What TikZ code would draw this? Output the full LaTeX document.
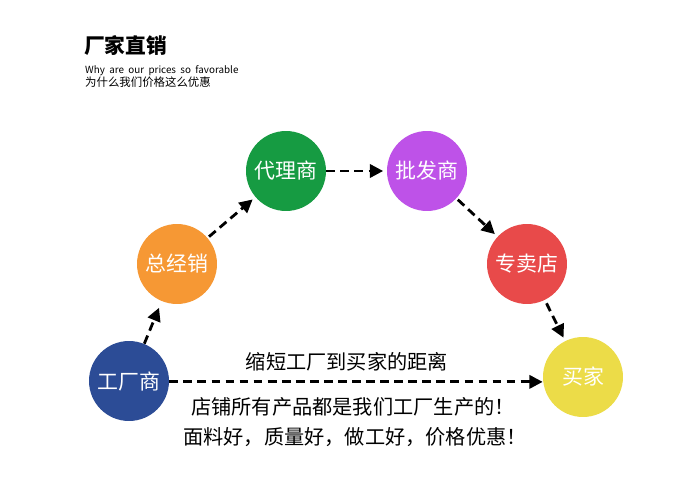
\documentclass[tikz,border=0pt]{standalone}
\usepackage{fontspec}
\usepackage{xcolor}
\usepackage{tikz}
\usetikzlibrary{arrows.meta,calc,positioning}
\newfontfamily\cjk{Noto Sans CJK SC}
\definecolor{factoryblue}{RGB}{44,76,150}
\definecolor{generalorange}{RGB}{246,152,52}
\definecolor{agentgreen}{RGB}{22,155,66}
\definecolor{wholesalepurple}{RGB}{190,82,232}
\definecolor{storered}{RGB}{232,74,74}
\definecolor{buyeryellow}{RGB}{236,220,72}

\begin{document}
\begin{tikzpicture}[x=0.02cm,y=-0.02cm,
    stage/.style={circle,minimum size=1.6cm,inner sep=0pt,text=white,font=\cjk\fontsize{11.9}{13}\selectfont},
    flow/.style={black,line width=1.6pt,dash pattern=on 5pt off 3pt,-{Triangle[length=7.5pt,width=7.5pt]},shorten >=2pt},
    note/.style={font=\cjk\fontsize{11.5}{13}\selectfont}]
    \useasboundingbox (0,0) rectangle (674,490);
    \fill[white] (0,0) rectangle (674,490);
    % heading
    \node[anchor=west,font=\cjk\bfseries\fontsize{11.8}{13}\selectfont] (title) at (78,45) {厂家直销};
    \node[anchor=west,font=\cjk\fontsize{5.6}{6}\selectfont] (subtitle) at (79,71) {Why\ \ are\ \ our\ \ prices\ \ so\ \ favorable};
    \node[anchor=west,font=\cjk\fontsize{6.5}{7}\selectfont,inner ysep=0pt] (subtitlecn) at (79,82) {为什么我们价格这么优惠};
    % stages
    \node[stage,fill=factoryblue] (factory) at (129,381) {工厂商};
    \node[stage,fill=generalorange] (general) at (177,264) {总经销};
    \node[stage,fill=agentgreen] (agent) at (286,171) {代理商};
    \node[stage,fill=wholesalepurple] (wholesale) at (427,171) {批发商};
    \node[stage,fill=storered] (store) at (527,264) {专卖店};
    \node[stage,fill=buyeryellow] (buyer) at (583,377) {买家};
    \draw[flow,shorten >=4pt] (factory) -- (general);
    \draw[flow,shorten <=1pt] (general) -- (agent);
    \draw[flow] (agent) -- (wholesale);
    \draw[flow,shorten <=1pt] (wholesale) -- (store);
    \draw[flow,shorten <=2pt] (store) -- (buyer);
    \draw[flow,shorten >=0pt] ([yshift=-0.5pt]factory.east) -- ([yshift=-0.5pt]factory.east -| buyer.west);
    % notes
    \node[note] (shorten) at (347,362) {缩短工厂到买家的距离};
    \node[note] (own) at (353,407) {店铺所有产品都是我们工厂生产的！};
    \node[note] (quality) at (355,437) {面料好，质量好，做工好，价格优惠！};
\end{tikzpicture}
\end{document}
